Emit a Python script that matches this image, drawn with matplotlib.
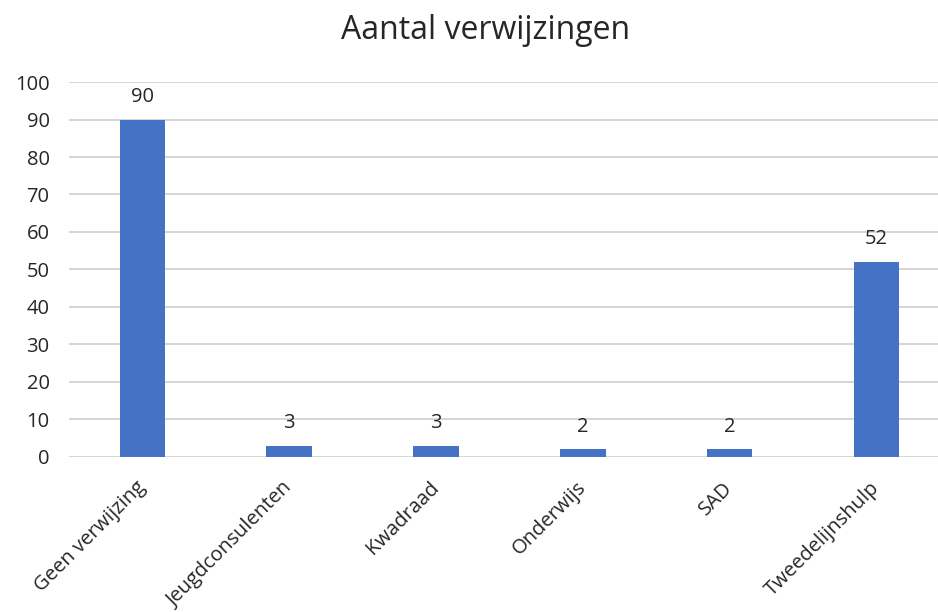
import matplotlib.pyplot as plt

plt.rcParams['font.family'] = ['Open Sans', 'DejaVu Sans']

categories = ['Geen verwijzing', 'Jeugdconsulenten', 'Kwadraad', 'Onderwijs', 'SAD', 'Tweedelijnshulp']
values = [90, 3, 3, 2, 2, 52]

fig = plt.figure(figsize=(9.38, 6.12), dpi=100)
ax = fig.add_axes([0.0736, 0.2533, 0.9264, 0.6127])

x = range(len(categories))
bars = ax.bar(x, values, width=0.31, color='#4472C4', zorder=3)

for bar, v in zip(bars, values):
    ax.annotate(str(v), (bar.get_x() + bar.get_width() / 2, v),
                xytext=(0, 9), textcoords='offset points',
                ha='center', va='bottom', fontsize=14.5, color='#262626')

ax.set_xlim(-0.5, 5.42)
ax.set_ylim(0, 100)
ax.set_yticks(range(0, 101, 10))
ax.set_xticks(list(x))
ax.set_xticklabels(categories, rotation=45, ha='right', va='center', rotation_mode='anchor')
ax.tick_params(axis='both', length=0, labelsize=14.5, colors='#262626')
ax.tick_params(axis='x', pad=20)
ax.tick_params(axis='y', pad=14)

ax.grid(axis='y', color='#d0d0d0', linewidth=1.2, zorder=0)
for s in ax.spines.values():
    s.set_visible(False)

fig.text(0.518, 0.95, 'Aantal verwijzingen', ha='center', va='center', fontsize=23, color='#262626')

fig.savefig('out.png', dpi=100)
